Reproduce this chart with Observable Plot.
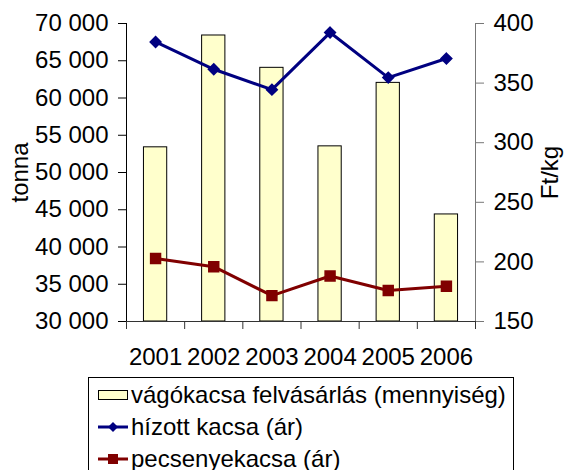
<!DOCTYPE html>
<html><head><meta charset="utf-8">
<script src="https://cdn.jsdelivr.net/npm/d3@7"></script>
<script src="https://cdn.jsdelivr.net/npm/@observablehq/plot@0.6"></script>
<style>
body{margin:0;background:#fff;font-family:"Liberation Sans",Arial,sans-serif;}
#wrap{position:relative;width:564px;height:470px;overflow:hidden;background:#fff;}
#legend{position:absolute;left:88px;top:377px;width:426px;height:110px;border:1px solid #000;box-sizing:border-box;background:#fff;}
.row{position:absolute;left:0;height:28px;display:flex;align-items:center;font-size:24px;line-height:28px;color:#000;white-space:nowrap;}
.row svg{margin-left:9px;margin-right:3px;}
</style></head><body><div id="wrap"><div id="chart"></div><div id="legend"></div></div>
<script>
const years = ["2001", "2002", "2003", "2004", "2005", "2006"];
const volume = [53380, 68390, 64050, 53510, 62030, 44370];
const hizott = [384.5, 361.6, 344.5, 392.4, 354.6, 370.6];
const pecsenye = [202.8, 196, 171.7, 188.2, 176, 179.5];
const leftTicks = [30000, 35000, 40000, 45000, 50000, 55000, 60000, 65000, 70000];
const rightTicks = [150, 200, 250, 300, 350, 400];
const seriesNames = ["vágókacsa felvásárlás (mennyiség)", "hízott kacsa (ár)", "pecsenyekacsa (ár)"];
const leftTitle = "tonna";
const rightTitle = "Ft/kg";

const yDom = [leftTicks[0], leftTicks[leftTicks.length - 1]];
const rDom = [rightTicks[0], rightTicks[rightTicks.length - 1]];
const k = (yDom[1] - yDom[0]) / (rDom[1] - rDom[0]);
const toY = p => yDom[0] + (p - rDom[0]) * k;
const fromY = v => Math.round(rDom[0] + (v - yDom[0]) / k);
const fmt = v => d3.format(",")(v).replace(/,/g, " ");

const diamond = {draw(ctx, size) { const a = Math.sqrt(size / 2); ctx.moveTo(0, -a); ctx.lineTo(a, 0); ctx.lineTo(0, a); ctx.lineTo(-a, 0); ctx.closePath(); }};

const navy = "#000080", maroon = "#800000", barFill = "#FFFFCC";
const xi = (d, i) => i + 0.5;

const chart = Plot.plot({
  width: 564, height: 372,
  marginLeft: 126, marginRight: 89, marginTop: 23, marginBottom: 51,
  style: {fontFamily: "'Liberation Sans', Arial, sans-serif", fontSize: "24px", color: "#000", background: "#fff"},
  x: {domain: [0, years.length], axis: null},
  y: {domain: yDom, axis: null},
  marks: [
    Plot.rect(volume, {x1: (d, i) => i + 0.3, x2: (d, i) => i + 0.7, y1: () => yDom[0], y2: d => d, fill: barFill, stroke: "#000", strokeWidth: 1}),
    Plot.ruleX([0], {stroke: "#000"}),
    Plot.ruleX([years.length], {stroke: "#777"}),
    Plot.ruleY([yDom[0]], {stroke: "#333"}),
    Plot.axisY(leftTicks, {anchor: "left", tickSize: 8, tickPadding: 10, tickFormat: fmt, stroke: "#000", fill: "#000", fontSize: 24}),
    Plot.axisY(rightTicks.map(toY), {anchor: "right", tickSize: 8, tickPadding: 10, tickFormat: fromY, stroke: "#777", fill: "#000", fontSize: 24}),
    Plot.axisX(d3.range(years.length + 1), {anchor: "bottom", tickSize: 8, tickFormat: () => "", stroke: "#333"}),
    Plot.axisX(years.map((d, i) => i + 0.5), {anchor: "bottom", tickSize: 0, tickPadding: 26, tickFormat: v => years[Math.floor(v)], fill: "#000", fontSize: 24}),
    Plot.text([leftTitle], {text: d => d, frameAnchor: "left", textAnchor: "middle", dx: -106, rotate: -90, fontSize: 24, fill: "#000"}),
    Plot.text([rightTitle], {text: d => d, frameAnchor: "right", textAnchor: "middle", dx: 75, rotate: -90, fontSize: 24, fill: "#000"}),
    Plot.line(hizott, {x: xi, y: d => toY(d), stroke: navy, strokeWidth: 3}),
    Plot.dot(hizott, {x: xi, y: d => toY(d), symbol: diamond, r: 4.3, fill: navy, stroke: navy}),
    Plot.line(pecsenye, {x: xi, y: d => toY(d), stroke: maroon, strokeWidth: 3}),
    Plot.dot(pecsenye, {x: xi, y: d => toY(d), symbol: "square", r: 5.6, fill: maroon, stroke: maroon})
  ]
});
document.getElementById("chart").appendChild(chart);

// legend
const legend = document.getElementById("legend");
const swatches = [
  `<svg width="30" height="12"><rect x="0.5" y="1.5" width="29" height="9" fill="${barFill}" stroke="#000"/></svg>`,
  `<svg width="30" height="12"><line x1="0" y1="6" x2="30" y2="6" stroke="${navy}" stroke-width="3"/><path d="M15,1 L20,6 L15,11 L10,6 Z" fill="${navy}"/></svg>`,
  `<svg width="30" height="12"><line x1="0" y1="6" x2="30" y2="6" stroke="${maroon}" stroke-width="3"/><rect x="10" y="1" width="10" height="10" fill="${maroon}"/></svg>`
];
seriesNames.forEach((name, i) => {
  const row = document.createElement("div");
  row.className = "row";
  row.style.top = (3 + i * 32) + "px";
  row.innerHTML = swatches[i] + `<span>${name}</span>`;
  legend.appendChild(row);
});
</script></body></html>
